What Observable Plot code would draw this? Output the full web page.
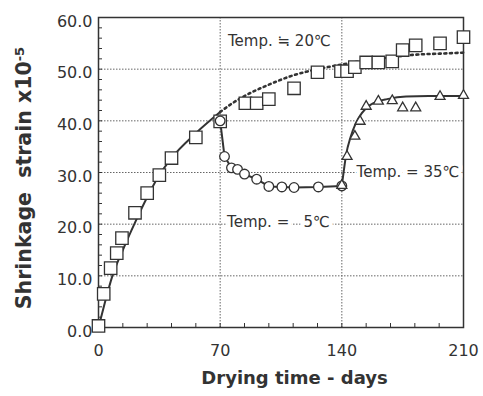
<!DOCTYPE html>
<html><head><meta charset="utf-8">
<script src="https://cdn.jsdelivr.net/npm/d3@7"></script>
<script src="https://cdn.jsdelivr.net/npm/@observablehq/plot@0.6"></script>
<style>
body{margin:0;background:#fff}
#chart svg{display:block}
</style></head><body><div id="chart"></div>
<script>
// Axis ticks
const xTicks = [0, 70, 140, 210];
const yTicks = [0, 10, 20, 30, 40, 50, 60];
const xMinor = [0, 14, 28, 42, 56, 70, 84, 98, 112, 126, 140, 154, 168, 182, 196, 210];
const yMinor = [0,2,4,6,8,10,12,14,16,18,20,22,24,26,28,30,32,34,36,38,40,42,44,46,48,50,52,54,56,58,60];
const xGrid = [70, 140];
const yGrid = [10, 20, 30, 40, 50];

// 20 C measured (squares)
const daysSq = [0, 3, 7, 10.5, 13.5, 21, 28, 35, 42, 56, 70, 84.5, 91, 98, 112.5, 126, 139.5, 143, 147.5, 154, 161, 169, 175, 182.5, 196.5, 210];
const strainSq = [0.3, 6.5, 11.5, 14.4, 17.3, 22.2, 26.0, 29.5, 32.8, 36.8, 39.9, 43.4, 43.4, 44.2, 46.3, 49.4, 49.6, 49.6, 50.4, 51.3, 51.3, 51.5, 53.7, 54.6, 55.0, 56.2];
// 20 C fitted curve (solid part, then dotted continuation)
const fitDays = [0, 3.5, 8, 14, 21, 28, 35, 42, 56, 70];
const fitStrain = [0, 4.6, 10, 15, 20.3, 25.2, 29.5, 32.8, 37.6, 41.7];
const dotDays = [70, 77, 84, 98, 112, 126, 140, 154, 168, 182, 196, 210];
const dotStrain = [41.7, 43.4, 44.8, 47.0, 48.8, 50.0, 50.9, 51.7, 52.3, 52.8, 53.0, 53.2];

// 5 C (circles)
const daysC = [70, 72.5, 76.5, 80, 84, 91, 98, 105.5, 112.5, 126.5, 140];
const strainC = [40.0, 33.1, 30.9, 30.6, 29.7, 28.7, 27.3, 27.2, 27.1, 27.2, 27.4];

// 35 C (triangles) and its curve
const daysT = [140, 143, 147.5, 150.5, 154, 161, 169, 175, 182.5, 196.5, 210];
const strainT = [27.5, 33.1, 37.0, 39.9, 42.8, 43.8, 43.9, 42.5, 42.5, 44.7, 44.9];
const curveTDays = [140, 141, 142.5, 145, 148, 151.5, 156, 161, 166, 177, 190, 210];
const curveTStrain = [27.5, 30, 33.5, 36.8, 39.5, 41.5, 43.0, 43.8, 44.2, 44.7, 44.8, 44.8];

// Annotations
const annoLabels = ["Temp. \u2252 20\u2103", "Temp. = \u20075\u2103", "Temp. = 35\u2103"];
const annoDays = [74.5, 74, 148.5];
const annoStrain = [55.5, 20.3, 30];

const xTitle = "Drying time - days";
const yTitle = "Shrinkage  strain x10";
const yTitleSup = "-5";

const pts = (xs, ys) => xs.map((x, i) => ({x, y: ys[i]}));
const ink = "#333";

const chart = Plot.plot({
  width: 483, height: 396,
  marginLeft: 98, marginRight: 20, marginTop: 17, marginBottom: 69,
  style: {fontFamily: "'DejaVu Sans', sans-serif", color: ink, background: "#fff"},
  x: {domain: [0, 210]},
  y: {domain: [0, 60]},
  marks: [
    Plot.ruleY(yGrid, {stroke: "#666", strokeDasharray: "1.5,1.5"}),
    Plot.ruleX(xGrid, {stroke: "#666", strokeDasharray: "1.5,1.5"}),
    Plot.axisX(xMinor, {tickSize: -4, tickFormat: () => "", stroke: ink, label: null}),
    Plot.axisY(yMinor, {tickSize: -4, tickFormat: () => "", stroke: ink, label: null}),
    Plot.axisX(xTicks, {tickSize: 0, tickPadding: 17, fontSize: 16, fill: ink, label: null}),
    Plot.axisY(yTicks, {tickSize: 0, tickPadding: 6, fontSize: 16, fill: ink, dy: 4, label: null, tickFormat: d => d.toFixed(1)}),
    Plot.frame({stroke: ink, strokeWidth: 1.5}),
    Plot.line(pts(fitDays, fitStrain), {x: "x", y: "y", stroke: ink, strokeWidth: 2, curve: "monotone-x"}),
    Plot.line(pts(dotDays, dotStrain), {x: "x", y: "y", stroke: ink, strokeWidth: 2.6, strokeDasharray: "2,3.6", curve: "monotone-x"}),
    Plot.line(pts(daysC, strainC), {x: "x", y: "y", stroke: ink, strokeWidth: 2}),
    Plot.line(pts(curveTDays, curveTStrain), {x: "x", y: "y", stroke: ink, strokeWidth: 2, curve: "monotone-x"}),
    Plot.text(annoLabels, {x: (d, i) => annoDays[i], y: (d, i) => annoStrain[i], text: d => d, textAnchor: "start", fontSize: 15, fill: ink, stroke: "white", strokeWidth: 8}),
    Plot.dot(pts(daysSq, strainSq), {x: "x", y: "y", symbol: "square", r: 7, fill: "white", stroke: ink, strokeWidth: 1.3}),
    Plot.dot(pts(daysC, strainC), {x: "x", y: "y", symbol: "circle", r: 4.8, fill: "white", stroke: ink, strokeWidth: 1.3}),
    Plot.dot(pts(daysT, strainT), {x: "x", y: "y", symbol: "triangle", r: 3.7, fill: "white", stroke: ink, strokeWidth: 1.3}),
    Plot.text([xTitle], {frameAnchor: "bottom", dy: 56, dx: 13.5, text: d => d, fontSize: 18, fontWeight: "bold", fill: ink}),
    Plot.text([yTitle], {frameAnchor: "left", textAnchor: "middle", dx: -74, dy: 5.5, rotate: -90, text: d => d, fontSize: 20.5, fontWeight: "bold", fill: ink})
  ]
});
document.getElementById("chart").appendChild(chart);
d3.select(chart).selectAll("text")
  .filter(function() { return this.textContent === yTitle; })
  .style("white-space", "pre")
  .append("tspan").attr("dy", "-0.55em").attr("font-size", 13).text(yTitleSup);
</script>
</body></html>
